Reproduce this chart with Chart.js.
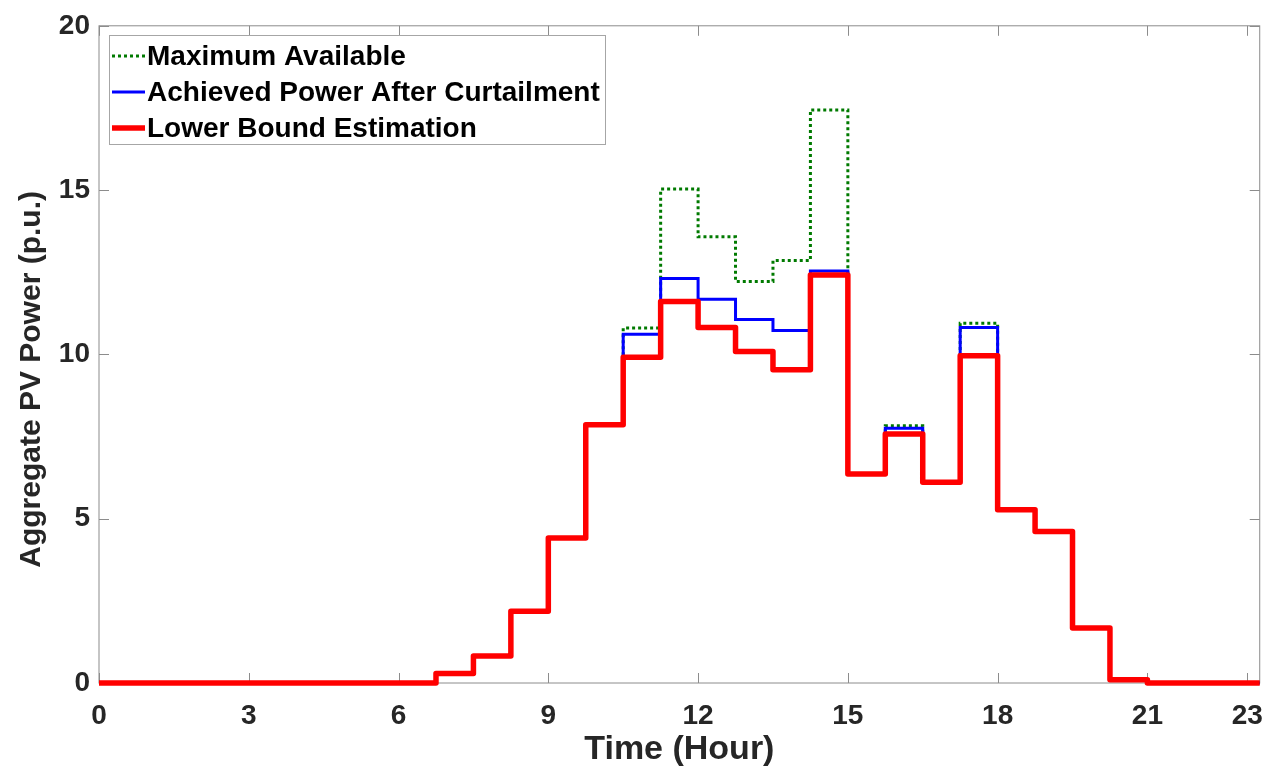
<!DOCTYPE html>
<html>
<head>
<meta charset="utf-8">
<title>Aggregate PV Power</title>
<script src="https://cdn.jsdelivr.net/npm/chart.js@4.4.1/dist/chart.umd.min.js"></script>
<style>
  html, body { margin: 0; padding: 0; background: #fff; }
  #wrap { width: 1279px; height: 774px; }
</style>
</head>
<body>
<div id="wrap"><canvas id="pvChart" width="1279" height="774"></canvas></div>
<script>
// ---- data (45 minute blocks, value holds until next block) ----
const hours = [0, 0.75, 1.5, 2.25, 3, 3.75, 4.5, 5.25, 6, 6.75, 7.5, 8.25, 9, 9.75, 10.5, 11.25,
               12, 12.75, 13.5, 14.25, 15, 15.75, 16.5, 17.25, 18, 18.75, 19.5, 20.25, 21, 21.75, 22.5, 23.25];

const maxAvailable = [0, 0, 0, 0, 0, 0, 0, 0, 0, 0.29, 0.82, 2.18, 4.41, 7.86, 10.80, 15.03,
                      13.58, 12.22, 12.86, 17.44, 6.36, 7.83, 6.11, 10.95, 5.27, 4.61, 1.67, 0.10, 0, 0, 0, 0];

const achievedPower = [0, 0, 0, 0, 0, 0, 0, 0, 0, 0.29, 0.82, 2.18, 4.41, 7.86, 10.61, 12.31,
                       11.68, 11.06, 10.73, 12.54, 6.36, 7.75, 6.11, 10.82, 5.27, 4.61, 1.67, 0.10, 0, 0, 0, 0];

const lowerBound = [0, 0, 0, 0, 0, 0, 0, 0, 0, 0.29, 0.82, 2.18, 4.41, 7.86, 9.91, 11.61,
                    10.82, 10.09, 9.53, 12.42, 6.36, 7.58, 6.11, 9.96, 5.27, 4.61, 1.67, 0.10, 0, 0, 0, 0];

const xTicks = [0, 3, 6, 9, 12, 15, 18, 21, 23];
const yTicks = [0, 5, 10, 15, 20];

const toPoints = vals => hours.map((h, i) => ({ x: h, y: vals[i] }));

const axisGray = "#8c8c8c";
const labelColor = "#262626";
const fontFam = "'Liberation Sans', Arial, Helvetica, sans-serif";

// box round the axes + inward ticks on all four sides (matlab style)
const framePlugin = {
    id: "frame",
    beforeDatasetsDraw(chart) {
        const { ctx, chartArea: a, scales } = chart;
        const len = 10;
        ctx.save();
        ctx.strokeStyle = axisGray;
        ctx.lineWidth = 1;
        ctx.strokeRect(a.left, a.top, a.right - a.left, a.bottom - a.top);
        ctx.beginPath();
        xTicks.forEach(v => {
            const px = Math.round(scales.x.getPixelForValue(v)) + 0.5;
            ctx.moveTo(px, a.bottom); ctx.lineTo(px, a.bottom - len);
            ctx.moveTo(px, a.top); ctx.lineTo(px, a.top + len);
        });
        yTicks.forEach(v => {
            const py = Math.round(scales.y.getPixelForValue(v)) + 0.5;
            ctx.moveTo(a.left, py); ctx.lineTo(a.left + len, py);
            ctx.moveTo(a.right, py); ctx.lineTo(a.right - len, py);
        });
        ctx.stroke();
        ctx.restore();
    }
};

// legend box inside the plot, top left
const legendPlugin = {
    id: "boxLegend",
    afterDraw(chart) {
        const { ctx } = chart;
        const x0 = 109, y0 = 35, w = 496, h = 109;
        const rowH = 36;
        ctx.save();
        ctx.fillStyle = "#fff";
        ctx.fillRect(x0, y0, w, h);
        ctx.strokeStyle = "#a6a6a6";
        ctx.lineWidth = 1;
        ctx.strokeRect(x0 + 0.5, y0 + 0.5, w, h);
        ctx.font = "bold 28px " + fontFam;
        ctx.textBaseline = "middle";
        chart.data.datasets.forEach((ds, i) => {
            const cy = y0 + 21 + i * rowH;
            ctx.beginPath();
            ctx.strokeStyle = ds.borderColor;
            ctx.lineWidth = ds.borderWidth;
            ctx.setLineDash(ds.borderDash || []);
            ctx.moveTo(x0 + 3, cy);
            ctx.lineTo(x0 + 36, cy);
            ctx.stroke();
            ctx.setLineDash([]);
            ctx.fillStyle = "#000";
            ctx.fillText(ds.label, x0 + 38, cy + 1);
        });
        ctx.restore();
    }
};

const stepLine = {
    stepped: "before",
    pointRadius: 0,
    fill: false,
    tension: 0,
    clip: false
};

new Chart(document.getElementById("pvChart"), {
    type: "line",
    data: {
        datasets: [
            {
                ...stepLine,
                label: "Maximum Available",
                data: toPoints(maxAvailable),
                borderColor: "#007a00",
                borderWidth: 3,
                borderDash: [3, 3],
                order: 2
            },
            {
                ...stepLine,
                label: "Achieved Power After Curtailment",
                data: toPoints(achievedPower),
                borderColor: "#0000ff",
                borderWidth: 3,
                order: 1
            },
            {
                ...stepLine,
                label: "Lower Bound Estimation",
                data: toPoints(lowerBound),
                borderColor: "#ff0000",
                borderWidth: 5.5,
                borderJoinStyle: "round",
                order: 0
            }
        ]
    },
    options: {
        responsive: false,
        devicePixelRatio: 1,
        animation: false,
        layout: { padding: { top: 24, right: 17, left: 0, bottom: 0 } },
        plugins: {
            legend: { display: false },
            tooltip: { enabled: false }
        },
        scales: {
            x: {
                type: "linear",
                min: 0,
                max: 23.25,
                afterBuildTicks: s => { s.ticks = xTicks.map(v => ({ value: v })); },
                afterFit: s => { s.height = 91; },
                grid: { display: false, drawTicks: false },
                border: { display: false },
                ticks: {
                    color: labelColor,
                    padding: 16,
                    autoSkip: false,
                    maxRotation: 0,
                    font: { family: fontFam, size: 28, weight: "bold" }
                },
                title: {
                    display: true,
                    text: "Time (Hour)",
                    color: labelColor,
                    padding: { bottom: 4 },
                    font: { family: fontFam, size: 34, weight: "bold" }
                }
            },
            y: {
                min: 0,
                max: 20,
                afterBuildTicks: s => { s.ticks = yTicks.map(v => ({ value: v })); },
                afterFit: s => { s.width = 99; },
                grid: { display: false, drawTicks: false },
                border: { display: false },
                ticks: {
                    color: labelColor,
                    padding: 9,
                    font: { family: fontFam, size: 28, weight: "bold" }
                },
                title: {
                    display: true,
                    // trailing spaces nudge the label down a bit, like the original
                    text: "Aggregate PV Power (p.u.)      ",
                    color: labelColor,
                    padding: { top: 14 },
                    font: { family: fontFam, size: 30, weight: "bold" }
                }
            }
        }
    },
    plugins: [framePlugin, legendPlugin]
});
</script>
</body>
</html>
